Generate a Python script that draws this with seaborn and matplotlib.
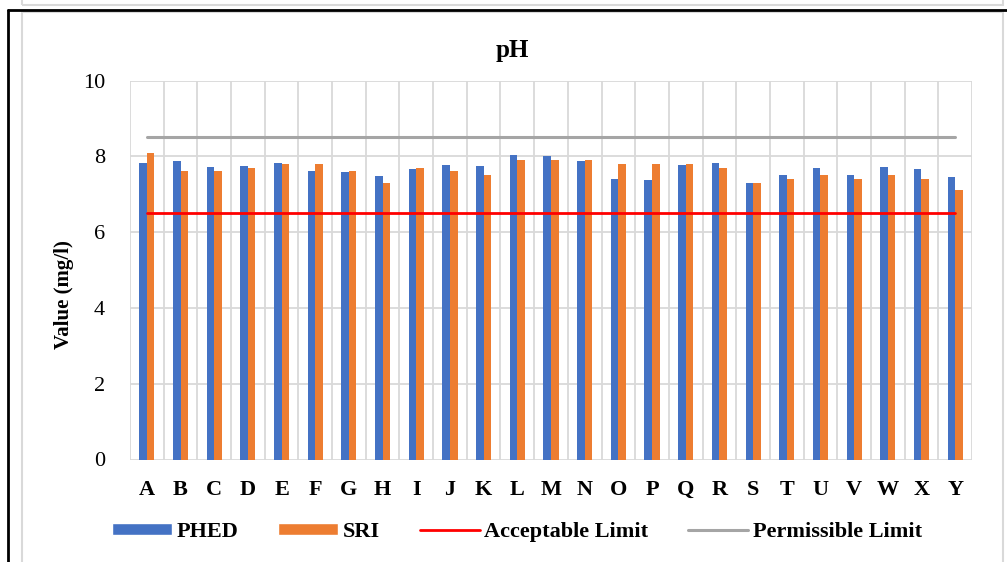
import numpy as np
import pandas as pd
import seaborn as sns
import matplotlib.pyplot as plt
from matplotlib.patches import Patch, Rectangle
from matplotlib.lines import Line2D

# sampling sites and pH readings
sites = list("ABCDEFGHIJKLMNOPQRSTUVWXY")
phed = [7.82, 7.87, 7.71, 7.75, 7.82, 7.61, 7.59, 7.49, 7.66, 7.76, 7.74, 8.04, 8.02,
        7.87, 7.39, 7.37, 7.77, 7.82, 7.30, 7.50, 7.68, 7.50, 7.71, 7.67, 7.46]
sri = [8.1, 7.6, 7.6, 7.7, 7.8, 7.8, 7.6, 7.3, 7.7, 7.6, 7.5, 7.9, 7.9,
       7.9, 7.8, 7.8, 7.8, 7.7, 7.3, 7.4, 7.5, 7.4, 7.5, 7.4, 7.1]
acceptable_limit = 6.5
permissible_limit = 8.5

df = pd.DataFrame({'site': sites * 2,
                   'value': phed + sri,
                   'source': ['PHED'] * len(sites) + ['SRI'] * len(sites)})

sns.set_style('white')
plt.rcParams['font.family'] = ['Liberation Serif', 'DejaVu Serif']
plt.rcParams['text.color'] = 'black'
plt.rcParams['xtick.color'] = 'black'
plt.rcParams['ytick.color'] = 'black'

W, H = 1007, 562
fig = plt.figure(figsize=(W / 100, H / 100), dpi=100)

# page / cell frame decorations
fig.add_artist(Rectangle((22 / W, 1 - 5 / H), (1003 - 22) / W, 10 / H, transform=fig.transFigure,
                         fill=False, edgecolor='#d9d9d9', linewidth=1.5))
fig.add_artist(Rectangle((22 / W, -0.01), (1003 - 22) / W, 1 - 12 / H + 0.01, transform=fig.transFigure,
                         fill=False, edgecolor='#d9d9d9', linewidth=1.5))
fig.add_artist(Line2D([8 / W, 1], [1 - 10 / H, 1 - 10 / H], transform=fig.transFigure,
                      color='black', linewidth=2))
fig.add_artist(Line2D([8 / W, 8 / W], [0, 1 - 10 / H], transform=fig.transFigure,
                      color='black', linewidth=2))

left, right, top, bottom = 130, 972, 80.5, 459.5
ax = fig.add_axes([left / W, 1 - bottom / H, (right - left) / W, (bottom - top) / H])

palette = {'PHED': '#4472C4', 'SRI': '#ED7D31'}
sns.barplot(data=df, x='site', y='value', hue='source', palette=palette,
            width=0.45, gap=0, ax=ax, legend=False, edgecolor='none', saturation=1)

xpos = np.arange(len(sites))
ax.plot(xpos, [acceptable_limit] * len(sites), color='#FF0000', linewidth=2, zorder=3)
ax.plot(xpos, [permissible_limit] * len(sites), color='#A5A5A5', linewidth=2.2, zorder=3)

ax.set_xlim(-0.5, len(sites) - 0.5)
ax.set_ylim(0, 10)
ax.set_yticks([0, 2, 4, 6, 8, 10])
ax.set_xticks(xpos)
ax.set_xticklabels(sites, fontweight='bold', fontsize=16)
ax.set_xticks(np.arange(-0.5, len(sites), 1), minor=True)
ax.tick_params(axis='y', labelsize=16, length=0, pad=18)
ax.tick_params(axis='x', which='both', length=0, pad=15)
ax.grid(True, axis='y', which='major', color='#d9d9d9', linewidth=1.3)
ax.grid(True, axis='x', which='minor', color='#d9d9d9', linewidth=1.3)
ax.grid(False, axis='x', which='major')
ax.set_axisbelow(True)
for s in ax.spines.values():
    s.set_visible(False)
ax.set_xlabel('')
ax.set_ylabel('')

fig.text(512 / W, 1 - 51 / H, 'pH', ha='center', va='center', fontsize=18, fontweight='bold')
fig.text(64 / W, 1 - 295 / H, 'Value (mg/l)', ha='center', va='center', rotation=90,
         fontsize=15, fontweight='bold')

handles = [Patch(facecolor=palette['PHED'], label='PHED'),
           Patch(facecolor=palette['SRI'], label='SRI'),
           Line2D([], [], color='#FF0000', linewidth=2, label='Acceptable Limit'),
           Line2D([], [], color='#A5A5A5', linewidth=2.2, label='Permissible Limit')]
fig.legend(handles=handles, loc='center', bbox_to_anchor=(517 / W, 1 - 532 / H), ncol=4,
           frameon=False, prop={'weight': 'bold', 'size': 16}, handlelength=2.7,
           handleheight=0.5, handletextpad=0.2, columnspacing=1.8)

fig.savefig('out.png', dpi=100)
